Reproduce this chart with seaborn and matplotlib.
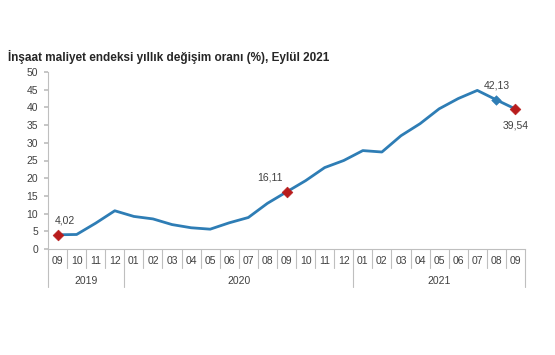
import numpy as np
import pandas as pd
import matplotlib
matplotlib.use("Agg")
import matplotlib.pyplot as plt
import seaborn as sns

# Veri: yıllık değişim oranı (%), 09/2019 - 09/2021
months = ["09", "10", "11", "12",
          "01", "02", "03", "04", "05", "06", "07", "08", "09", "10", "11", "12",
          "01", "02", "03", "04", "05", "06", "07", "08", "09"]
years = ["2019"] * 4 + ["2020"] * 12 + ["2021"] * 9
values = [4.02, 4.1, 7.3, 10.8,
          9.2, 8.5, 6.9, 6.0, 5.6, 7.4, 8.9, 12.9, 16.11, 19.3, 23.0, 25.0,
          27.8, 27.4, 32.0, 35.4, 39.6, 42.5, 44.8, 42.13, 39.54]
highlight = [0, 12, 24]
labels = {0: "4,02", 12: "16,11", 23: "42,13", 24: "39,54"}

df = pd.DataFrame({"idx": np.arange(len(values)), "ay": months, "yil": years, "deger": values})

sns.set_theme(style="white")
plt.rcParams["font.family"] = ["Liberation Sans", "DejaVu Sans"]

fig = plt.figure(figsize=(5.55, 3.55), dpi=100)
ax = fig.add_axes([48 / 555, 1 - 249 / 355, 477 / 555, 177 / 355])

line_col = "#2E7DB5"
red = "#B81C1C"
txt = "#404040"
grid_col = "#BFBFBF"

sns.lineplot(data=df, x="idx", y="deger", ax=ax, color=line_col, linewidth=2.0)
sns.scatterplot(data=df.iloc[[23]], x="idx", y="deger", ax=ax, color=line_col,
                marker="D", s=24, edgecolor=line_col, zorder=3)
sns.scatterplot(data=df.iloc[highlight], x="idx", y="deger", ax=ax, color=red,
                marker="D", s=30, edgecolor=red, zorder=4)

offsets = {0: (-2, 7, "left", "bottom"), 12: (-3, 7, "right", "bottom"),
           23: (0, 7, "center", "bottom"), 24: (0, -8, "center", "top")}
for i, lab in labels.items():
    dx, dy, ha, va = offsets[i]
    ax.annotate(lab, (df.idx[i], df.deger[i]), xytext=(dx, dy), textcoords="offset points",
                ha=ha, va=va, fontsize=7.5, color=txt)

ax.set_xlim(-0.5, len(values) - 0.5)
ax.set_ylim(0, 50)
ax.set_yticks(np.arange(0, 51, 5))
ax.set_xticks([])
ax.set_xlabel("")
ax.set_ylabel("")
ax.tick_params(axis="y", labelsize=7.5, labelcolor=txt, left=True, length=3, color=grid_col, pad=4)
for s in ["top", "right"]:
    ax.spines[s].set_visible(False)
for s in ["left", "bottom"]:
    ax.spines[s].set_color(grid_col)
    ax.spines[s].set_linewidth(0.8)

# Kategori tablosu (ay / yıl)
trans = ax.get_xaxis_transform()
for i, m in enumerate(months):
    ax.text(i, -0.068, m, transform=trans, ha="center", va="center", fontsize=7.5, color=txt)
for b in range(len(values) + 1):
    x = b - 0.5
    is_year = b == 0 or b == len(values) or years[b] != years[b - 1]
    y_end = -0.215 if is_year else -0.105
    ax.plot([x, x], [0, y_end], transform=trans, color=grid_col, lw=0.8, clip_on=False)
for y in sorted(set(years)):
    pos = df.idx[df.yil == y]
    ax.text(pos.mean(), -0.18, y, transform=trans, ha="center", va="center", fontsize=7.5, color=txt)

fig.text(8 / 555, 1 - 57 / 355, "İnşaat maliyet endeksi yıllık değişim oranı (%), Eylül 2021",
         fontsize=8.5, fontweight="bold", color="#262626", ha="left", va="center")

fig.savefig("out.png", dpi=100, facecolor="white")
